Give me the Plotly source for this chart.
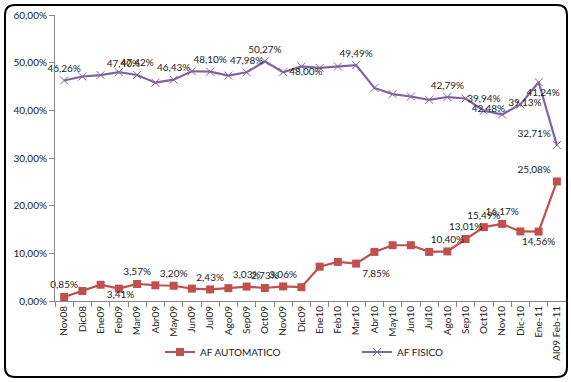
import plotly.graph_objects as go

categories = ["Nov08", "Dic08", "Ene09", "Feb09", "Mar09", "Abr09", "May09", "Jun09",
              "Jul09", "Ago09", "Sep09", "Oct09", "Nov09", "Dic09", "Ene10", "Feb10",
              "Mar10", "Abr10", "May10", "Jun10", "Jul10", "Ago10", "Sep10", "Oct10",
              "Nov10", "Dic-10", "Ene-11", "Al09 Feb-11"]

af_automatico = [0.85, 2.1, 3.41, 2.6, 3.57, 3.3, 3.20, 2.6, 2.43, 2.7, 3.03, 2.73, 3.06, 2.9,
                 7.2, 8.2, 7.85, 10.3, 11.7, 11.7, 10.3, 10.40, 13.01, 15.49, 16.17, 14.6,
                 14.56, 25.08]
af_fisico = [46.26, 47.1, 47.40, 48.0, 47.42, 45.8, 46.43, 48.2, 48.10, 47.3, 47.98, 50.27,
             48.00, 49.2, 48.9, 49.2, 49.49, 44.7, 43.4, 42.9, 42.2, 42.79, 42.48, 39.94,
             39.13, 41.24, 45.9, 32.71]

# which points carry a data label
auto_labeled = [1, 0, 1, 0, 1, 0, 1, 0, 1, 0, 1, 1, 1, 0, 0, 0, 1, 0, 0, 0, 0, 1, 1, 1, 1, 0, 1, 1]
fis_labeled = [1, 0, 1, 0, 1, 0, 1, 0, 1, 0, 1, 1, 1, 0, 0, 0, 1, 0, 0, 0, 0, 1, 1, 1, 1, 1, 0, 1]

y_ticks = [0, 10, 20, 30, 40, 50, 60]
y_tick_labels = ["0,00%", "10,00%", "20,00%", "30,00%", "40,00%", "50,00%", "60,00%"]


def fmt(v):
    return f"{v:.2f}".replace(".", ",") + "%"


auto_text = [fmt(v) if l else "" for v, l in zip(af_automatico, auto_labeled)]
fis_text = [fmt(v) if l else "" for v, l in zip(af_fisico, fis_labeled)]

auto_pos = ["top center"] * len(categories)
auto_pos[2] = "bottom right"
auto_pos[16] = "bottom right"
auto_pos[26] = "bottom center"
auto_pos[27] = "top left"

fis_pos = ["top center"] * len(categories)
fis_pos[12] = "middle right"
fis_pos[22] = "bottom right"
fis_pos[24] = "top right"
fis_pos[25] = "top right"
fis_pos[27] = "top left"
fis_pos[2] = "top right"

RED = "#C0504D"
PURPLE = "#8064A2"
FONT = "Lato"

fig = go.Figure()
fig.add_trace(go.Scatter(
    x=categories, y=af_automatico, name="AF AUTOMATICO",
    mode="lines+markers+text", text=auto_text, textposition=auto_pos,
    textfont=dict(size=10, color="#222", family=FONT),
    line=dict(color=RED, width=2.2),
    marker=dict(symbol="square", size=8, color=RED),
    legend="legend", cliponaxis=False,
))
fig.add_trace(go.Scatter(
    x=categories, y=af_fisico, name="AF FISICO",
    mode="lines+markers+text", text=fis_text, textposition=fis_pos,
    textfont=dict(size=10, color="#222", family=FONT),
    line=dict(color=PURPLE, width=2.2),
    marker=dict(symbol="x-thin", size=8, color=PURPLE, line=dict(color=PURPLE, width=1)),
    legend="legend2", cliponaxis=False,
))

L, R, T, B = 55, 5, 15, 81
W, H = 571, 382
pw, ph = W - L - R, H - T - B


def px(x):
    return (x - L) / pw


def py(y):
    return (H - B - y) / ph


x0, x1, y0, y1, r = 5, 567, 5, 377, 10
path = (f"M {px(x0 + r)},{py(y0)} L {px(x1 - r)},{py(y0)} "
        f"Q {px(x1)},{py(y0)} {px(x1)},{py(y0 + r)} L {px(x1)},{py(y1 - r)} "
        f"Q {px(x1)},{py(y1)} {px(x1 - r)},{py(y1)} L {px(x0 + r)},{py(y1)} "
        f"Q {px(x0)},{py(y1)} {px(x0)},{py(y1 - r)} L {px(x0)},{py(y0 + r)} "
        f"Q {px(x0)},{py(y0)} {px(x0 + r)},{py(y0)} Z")

fig.update_layout(
    width=W, height=H,
    margin=dict(l=L, r=R, t=T, b=B, autoexpand=False),
    paper_bgcolor="white", plot_bgcolor="white",
    font=dict(family=FONT, size=10, color="#222"),
    showlegend=True,
    legend=dict(orientation="h", x=px(160), xanchor="left", y=py(352), yanchor="middle",
                font=dict(size=10, family=FONT), bgcolor="rgba(0,0,0,0)"),
    legend2=dict(orientation="h", x=px(357), xanchor="left", y=py(352), yanchor="middle",
                 font=dict(size=10, family=FONT), bgcolor="rgba(0,0,0,0)"),
    xaxis=dict(type="category", range=[-0.5, len(categories) - 0.5], automargin=False,
               tickangle=-90, ticks="outside", ticklen=5, tickson="boundaries",
               tickcolor="#868686", showline=True, linecolor="#868686", linewidth=1,
               showgrid=False, zeroline=False, tickfont=dict(size=10, family=FONT)),
    yaxis=dict(range=[0, 60], tickvals=y_ticks, ticktext=y_tick_labels, automargin=False,
               ticks="outside", ticklen=5, tickcolor="#868686",
               showline=True, linecolor="#868686", linewidth=1,
               showgrid=False, zeroline=False, tickfont=dict(size=10, family=FONT)),
    shapes=[dict(type="path", path=path, xref="paper", yref="paper",
                 line=dict(color="black", width=2), fillcolor="rgba(0,0,0,0)", layer="above")],
)

fig.write_html("out.html", config={"displayModeBar": False},
               post_script="document.body.style.margin='0';")
